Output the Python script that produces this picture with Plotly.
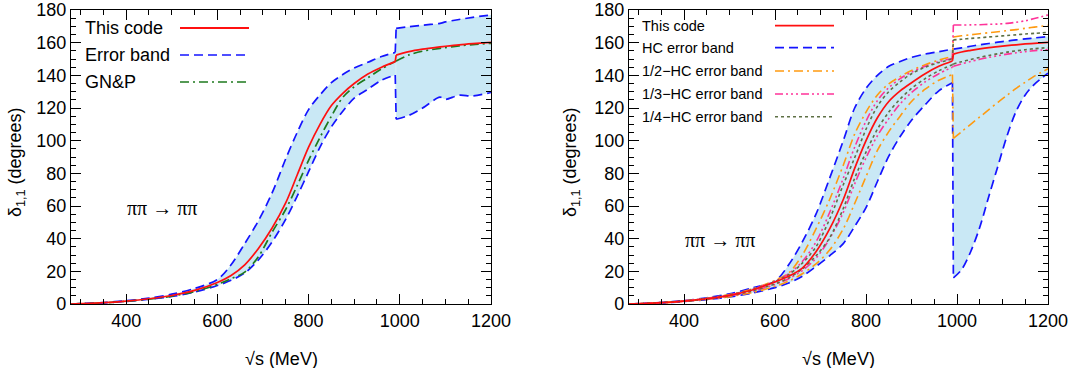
import plotly.graph_objects as go

# ---------------- data: left panel ----------------
energy_left = [279, 300, 350, 400, 450, 500, 550, 600, 630, 660, 690, 720, 750, 775, 800,
               825, 850, 875, 900, 930, 960, 990, 992, 1020, 1050, 1088, 1100, 1130, 1160, 1200]
this_code_left = [0, 0.2, 0.8, 1.8, 3.2, 5.2, 8.3, 13.2, 17.5, 24, 34, 46.5, 62, 79, 96,
                  110, 121.5, 129, 135, 140.8, 145, 148.4, 152.4, 154.5, 156, 157.4, 157.8, 158.7, 159.4, 160.2]
band_upper_left = [0, 0.2, 0.9, 2.0, 3.6, 6.0, 9.5, 15, 24, 37, 51, 68, 89, 105, 119,
                   128, 135.5, 140.5, 144.5, 148, 151.5, 154, 168.8, 169.8, 170.7, 171.8, 172.7, 174.2, 175.5, 177]
band_lower_left = [0, 0.1, 0.7, 1.6, 2.9, 4.6, 7.3, 11.3, 14.5, 19, 27, 38, 52, 66, 81,
                   96, 108.5, 118, 126, 131.5, 137, 140.2, 113.1, 115.5, 120, 126.6, 125.3, 127.8, 127.4, 129.5]
gnp_left = [0, 0.2, 0.7, 1.7, 3.0, 4.8, 7.6, 12, 15.5, 19.5, 29, 44, 58, 72.5, 88,
            102, 115, 126.5, 133, 138.5, 144, 148.4, 148.8, 152.5, 154.8, 156.5, 157, 158, 158.8, 159.6]

# ---------------- data: right panel ----------------
energy_right = [279, 300, 350, 400, 450, 500, 550, 600, 630, 660, 690, 720, 750, 775, 800,
                825, 850, 875, 900, 930, 960, 990, 992, 1010, 1030, 1050, 1070, 1090, 1110, 1130,
                1150, 1170, 1200]
this_code_right = [0, 0.2, 0.8, 1.8, 3.2, 5.3, 8.6, 13.5, 17, 22, 32, 46, 64, 83, 100,
                   114, 124, 130.5, 135.5, 141, 145.5, 148.8, 153, 154.3, 155.3, 156.2, 157, 157.6, 158.2, 158.7,
                   159.2, 159.6, 160.2]
hc_upper = [0, 0.2, 0.9, 2.1, 3.8, 6.3, 9.8, 14, 24, 38, 55, 77, 100, 120, 132,
            140, 145.5, 148.5, 151, 153, 154.5, 156, 156.1, 156.8, 157.8, 158.7, 159.5, 160.3, 161, 161.7,
            162.3, 162.9, 163.7]
hc_lower = [0, 0.1, 0.6, 1.5, 2.7, 4.3, 6.7, 10, 12.8, 17, 23, 29.5, 37, 47.5, 59,
            75, 90.5, 102.5, 112.5, 122, 130.5, 135.5, 16, 21, 32, 47, 66, 84.5, 103, 118,
            128, 134.5, 141.3]
half_hc_upper = [0, 0.2, 0.9, 2.0, 3.5, 5.8, 9.2, 14.5, 19, 30, 46, 64, 85, 104, 117.5,
                 128, 134.8, 139.2, 143, 146.5, 149.3, 151.5, 163.5, 164.2, 164.8, 165.5, 166.1, 166.7, 167.4, 168,
                 168.8, 169.5, 170.6]
half_hc_lower = [0, 0.1, 0.6, 1.6, 2.8, 4.5, 7.0, 10.8, 14, 18.5, 24.5, 33, 46, 61.5, 78,
                 94, 105.5, 115, 124, 131.5, 137, 140.5, 101.4, 105.5, 110, 114.5, 119, 123.5, 127.8, 132,
                 135.8, 139.5, 144]
third_hc_upper = [0, 0.2, 0.9, 2.0, 3.4, 5.6, 9, 14, 18.5, 26, 38, 56, 77, 96, 112,
                  124.5, 132.5, 138, 142, 145.5, 148.3, 150.5, 170.8, 170.8, 170.9, 171, 171.2, 171.4, 171.8, 172.5,
                  173.4, 174.8, 177]
third_hc_lower = [0, 0.1, 0.7, 1.7, 3.0, 4.9, 7.8, 12, 15.5, 20.5, 28, 40, 56, 73.5, 89.5,
                  103, 113.5, 122.5, 129.5, 136, 141, 145, 145.5, 147, 148.5, 149.8, 151, 152, 153, 153.8,
                  154.5, 155.1, 155.8]
quarter_hc_upper = [0, 0.2, 0.9, 1.9, 3.3, 5.5, 8.8, 13.8, 18, 25, 35, 52, 73, 89.5, 107,
                    121, 130, 136, 141, 145, 147.8, 150, 161.7, 162.1, 162.6, 163, 163.5, 163.9, 164.4, 164.8,
                    165.3, 165.7, 166.3]
quarter_hc_lower = [0, 0.1, 0.7, 1.7, 3.0, 5.0, 8.0, 12.3, 16, 21.5, 29.5, 40.5, 58.5, 77, 93,
                    107, 117.5, 125.5, 132, 138, 142.8, 146.5, 147, 148.3, 149.7, 151, 152.2, 153.2, 154.2, 155,
                    155.7, 156.3, 157]

x_ticks = [400, 600, 800, 1000, 1200]
y_ticks = [0, 20, 40, 60, 80, 100, 120, 140, 160, 180]
legend_left = ["This code", "Error band", "GN&P"]
legend_right = ["This code", "HC error band", "1/2\u2212HC error band",
                "1/3\u2212HC error band", "1/4\u2212HC error band"]
threshold_energy = 991  # where the curves jump (K-Kbar threshold)

# ---------------- styles ----------------
RED = "#ff1010"
BLUE = "#1414ff"
GREEN = "#1e7a1e"
ORANGE = "#ff9a10"
PINK = "#ff3399"
OLIVE = "#5e7045"
FILL = "#c9e8f5"
FONT = "Liberation Sans, Arial, Helvetica, sans-serif"

DASH_BLUE = "9px,5px"
DASH_GREEN = "9px,4px,2px,4px"
DASH_ORANGE = "9px,4px,2px,4px"
DASH_PINK = "8px,3px,2px,3px,2px,3px,2px,3px"
DASH_OLIVE = "3px,3px"

W, H = 1078, 368


def fx(px):  # screen pixel x -> paper
    return px / W


def fy(py):  # screen pixel y -> paper
    return (H - py) / H


fig = go.Figure()


def split(x):
    return next(i for i, v in enumerate(x) if v > threshold_energy)


def line(x, y, color, dash, width, xa, ya):
    k = split(x)
    segs = [(x[:k], y[:k], "spline"), (x[k - 1:k + 1], y[k - 1:k + 1], "linear"), (x[k:], y[k:], "spline")]
    for xs, ys, shp in segs:
        fig.add_trace(go.Scatter(x=xs, y=ys, mode="lines", xaxis=xa, yaxis=ya,
                                 line=dict(color=color, dash=dash, width=width, shape=shp, smoothing=0.9),
                                 showlegend=False, hoverinfo="skip"))


def band(x, lo, hi, xa, ya):
    k = split(x)
    for a, b in ((0, k), (k - 1, k + 1), (k, len(x))):
        shp = "linear" if b - a == 2 else "spline"
        fig.add_trace(go.Scatter(x=x[a:b], y=lo[a:b], mode="lines", xaxis=xa, yaxis=ya,
                                 line=dict(width=0, color=FILL, shape=shp, smoothing=0.9),
                                 showlegend=False, hoverinfo="skip"))
        fig.add_trace(go.Scatter(x=x[a:b], y=hi[a:b], mode="lines", xaxis=xa, yaxis=ya, fill="tonexty",
                                 fillcolor=FILL, line=dict(width=0, color=FILL, shape=shp, smoothing=0.9),
                                 showlegend=False, hoverinfo="skip"))


# left panel
band(energy_left, band_lower_left, band_upper_left, "x", "y")
line(energy_left, band_upper_left, BLUE, DASH_BLUE, 1.7, "x", "y")
line(energy_left, band_lower_left, BLUE, DASH_BLUE, 1.7, "x", "y")
line(energy_left, gnp_left, GREEN, DASH_GREEN, 1.7, "x", "y")
line(energy_left, this_code_left, RED, "solid", 1.7, "x", "y")

# right panel
band(energy_right, hc_lower, hc_upper, "x2", "y2")
line(energy_right, hc_upper, BLUE, DASH_BLUE, 1.7, "x2", "y2")
line(energy_right, hc_lower, BLUE, DASH_BLUE, 1.7, "x2", "y2")
line(energy_right, half_hc_upper, ORANGE, DASH_ORANGE, 1.6, "x2", "y2")
line(energy_right, half_hc_lower, ORANGE, DASH_ORANGE, 1.6, "x2", "y2")
line(energy_right, third_hc_upper, PINK, DASH_PINK, 1.6, "x2", "y2")
line(energy_right, third_hc_lower, PINK, DASH_PINK, 1.6, "x2", "y2")
line(energy_right, quarter_hc_upper, OLIVE, DASH_OLIVE, 1.6, "x2", "y2")
line(energy_right, quarter_hc_lower, OLIVE, DASH_OLIVE, 1.6, "x2", "y2")
line(energy_right, this_code_right, RED, "solid", 1.7, "x2", "y2")


# ---------------- axes ----------------
def xaxis(domain, anchor):
    return dict(domain=domain, anchor=anchor, range=[279, 1200], tickvals=x_ticks,
                ticktext=[str(v) for v in x_ticks], automargin=False, ticklabeloverflow="allow",
                showgrid=False, zeroline=False, showline=True, linecolor="black", linewidth=1.4,
                mirror="ticks", ticks="inside", ticklen=10, tickwidth=1.2, tickcolor="black",
                minor=dict(dtick=50, tick0=0, ticks="inside", ticklen=5, tickwidth=1.1, tickcolor="black"),
                tickfont=dict(family=FONT, size=18, color="black"))


def yaxis(domain, anchor):
    return dict(domain=domain, anchor=anchor, range=[0, 180], tickvals=y_ticks,
                ticktext=[str(v) for v in y_ticks], automargin=False, ticklabeloverflow="allow",
                showgrid=False, zeroline=False, showline=True, linecolor="black", linewidth=1.4,
                mirror="ticks", ticks="inside", ticklen=10, tickwidth=1.2, tickcolor="black",
                minor=dict(dtick=5, tick0=0, ticks="inside", ticklen=5, tickwidth=1.1, tickcolor="black"),
                tickfont=dict(family=FONT, size=18, color="black"))


ydom = [fy(304), fy(10)]
fig.update_layout(
    width=W, height=H, margin=dict(l=0, r=0, t=0, b=0, autoexpand=False),
    paper_bgcolor="white", plot_bgcolor="white", showlegend=False,
    xaxis=xaxis([fx(71), fx(491)], "y"),
    yaxis=yaxis(ydom, "x"),
    xaxis2=xaxis([fx(629), fx(1048)], "y2"),
    yaxis2=yaxis(ydom, "x2"),
)

ann = []
shapes = []

# axis titles
for xc, xt in (((71 + 491) / 2, 17), ((629 + 1048) / 2, 572)):
    ann.append(dict(x=fx(xc), y=fy(359), xref="paper", yref="paper", showarrow=False,
                    text="\u221As (MeV)", font=dict(family=FONT, size=18, color="black"),
                    xanchor="center", yanchor="middle"))
    ann.append(dict(x=fx(xt), y=fy(162), xref="paper", yref="paper", showarrow=False,
                    text="\u03b4<sub>1,1</sub> (degrees)", textangle=-90,
                    font=dict(family=FONT, size=18, color="black"),
                    xanchor="center", yanchor="middle"))

# process labels
ann.append(dict(x=478, y=59, xref="x", yref="y", showarrow=False, text="\u03c0\u03c0 \u2192 \u03c0\u03c0",
                font=dict(family="Liberation Serif, Times New Roman, serif", size=20, color="black")))
ann.append(dict(x=478, y=39, xref="x2", yref="y2", showarrow=False, text="\u03c0\u03c0 \u2192 \u03c0\u03c0",
                font=dict(family="Liberation Serif, Times New Roman, serif", size=20, color="black")))

# left legend
left_rows = [(304 - 28) / 294, (304 - 55) / 294, (304 - 82) / 294]
left_styles = [(RED, "solid", 1.8), (BLUE, DASH_BLUE, 1.7), (GREEN, DASH_GREEN, 1.7)]
for label, yy, (c, d, w) in zip(legend_left, left_rows, left_styles):
    ann.append(dict(x=(83 - 71) / 420, y=yy, xref="x domain", yref="y domain", showarrow=False,
                    text=label, xanchor="left", yanchor="middle",
                    font=dict(family=FONT, size=18, color="black")))
    shapes.append(dict(type="line", xref="x domain", yref="y domain",
                       x0=(180 - 71) / 420, x1=(249 - 71) / 420, y0=yy, y1=yy,
                       line=dict(color=c, dash=d, width=w)))

# right legend
right_rows = [(304 - y) / 294 for y in (25.7, 47.7, 71, 94, 116.7)]
right_styles = [(RED, "solid", 1.8), (BLUE, DASH_BLUE, 1.7), (ORANGE, DASH_ORANGE, 1.6),
                (PINK, DASH_PINK, 1.6), (OLIVE, DASH_OLIVE, 1.6)]
for label, yy, (c, d, w) in zip(legend_right, right_rows, right_styles):
    ann.append(dict(x=(640 - 629) / 419, y=yy, xref="x2 domain", yref="y2 domain", showarrow=False,
                    text=label, xanchor="left", yanchor="middle",
                    font=dict(family=FONT, size=14.5, color="black")))
    shapes.append(dict(type="line", xref="x2 domain", yref="y2 domain",
                       x0=(775 - 629) / 419, x1=(834 - 629) / 419, y0=yy, y1=yy,
                       line=dict(color=c, dash=d, width=w)))

fig.update_layout(annotations=ann, shapes=shapes)
# the page body's default 8px margin would shift the figure; remove it
fig.write_html("out.html", config={"displayModeBar": False},
               post_script="document.body.style.margin='0';document.body.style.overflow='hidden';")
